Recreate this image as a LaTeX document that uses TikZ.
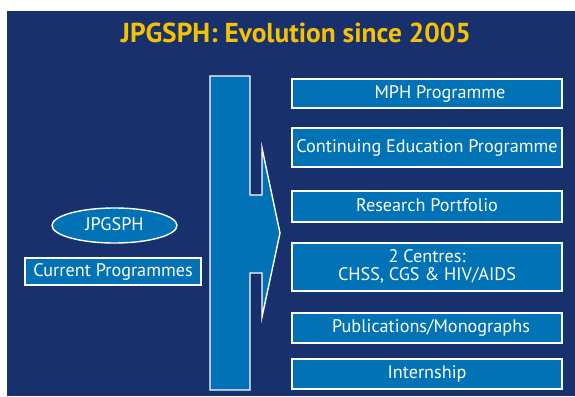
\documentclass[tikz,border=0pt]{standalone}
\usepackage{fontspec}
\setmainfont{PT Sans}
\usetikzlibrary{shapes.geometric}
\definecolor{navy}{RGB}{24,49,108}
\definecolor{boxblue}{RGB}{0,114,181}
\definecolor{gold}{RGB}{245,194,0}
\tikzset{
  rbox/.style={draw=white, line width=1.4pt, fill=boxblue, text=white, inner sep=0pt, outer sep=0pt,
    minimum width=270pt, font=\fontsize{18.2}{18}\selectfont, text height=12.5pt, text depth=3pt, align=center},
  lbox/.style={draw=white, line width=1.4pt, fill=boxblue, text=white, inner sep=0pt, outer sep=0pt,
    font=\fontsize{18.2}{18}\selectfont, text height=12.5pt, text depth=3pt},
  bigarrow/.style={draw=white, line width=1.4pt, fill=boxblue, line join=miter},
  titlestyle/.style={text=gold, font=\fontsize{27.4}{30}\selectfont\bfseries, inner sep=0pt, anchor=base}
}
\begin{document}
\begin{tikzpicture}[x=1pt,y=-1pt]
\useasboundingbox (0,0) rectangle (575,396);
\fill[navy] (7,11) rectangle (575,396);
\node[titlestyle] (title) at (296,43) {JPGSPH: Evolution since 2005};
% big arrow
\draw[bigarrow] (210,76) -- (250,76) -- (250,195) -- (262,195) -- (262,148) -- (280,233)
  -- (262,317) -- (262,273) -- (250,273) -- (250,390) -- (210,390) -- cycle;
\coordinate (tip) at (280,233);
% left
\node[lbox, ellipse, minimum width=125pt, minimum height=35pt] (jp) at (114.5,225.5) {JPGSPH};
\node[lbox, minimum width=176pt, minimum height=27pt] (cur) at (113,271.5) {Current Programmes};
% right boxes
\node[rbox, minimum height=29pt] (mph) at (427,93.5) {\hspace*{26pt}MPH Programme};
\node[rbox, minimum height=39pt] (ce) at (427,147.5) {Continuing Education Programme};
\node[rbox, minimum height=31pt] (rp) at (427,206.5) {Research Portfolio};
\node[rbox, minimum height=48pt, text height=30.5pt, text depth=3pt] (cen) at (427,267) {2 Centres:\\CHSS, CGS \& HIV/AIDS};
\node[rbox, minimum height=30pt] (pub) at (427,328) {\hspace*{8pt}Publications/Monographs};
\node[rbox, minimum height=30pt] (int) at (427,374) {Internship};
\end{tikzpicture}
\end{document}
